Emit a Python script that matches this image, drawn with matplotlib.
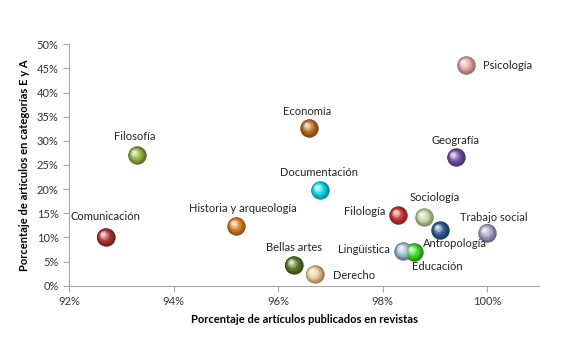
import numpy as np
import matplotlib
matplotlib.use("Agg")
import matplotlib.pyplot as plt
from matplotlib import colors as mcolors
from matplotlib.transforms import offset_copy

plt.rcParams['font.family'] = ['Lato', 'DejaVu Sans']

# data (percentages)
areas = ["Comunicación", "Filosofía", "Historia y arqueología", "Economía",
         "Documentación", "Bellas artes", "Derecho", "Psicología", "Geografía",
         "Sociología", "Filología", "Antropología", "Trabajo social",
         "Lingüística", "Educación"]
pct_revistas = [92.7, 93.3, 95.2, 96.6, 96.8, 96.3, 96.7, 99.6, 99.4,
                98.8, 98.3, 99.1, 100.0, 98.4, 98.6]
pct_EA = [10.1, 27.0, 12.4, 32.7, 19.8, 4.3, 2.4, 45.7, 26.6,
          14.2, 14.6, 11.5, 11.0, 7.2, 7.0]
colores = ["#b03a3a", "#8fb23e", "#d9822b", "#c0701f", "#12dce8", "#5f7a2c",
           "#f2cc95", "#e6a8a8", "#7452a6", "#c6d6a6", "#c73434", "#2f5e96",
           "#aaa3cc", "#a6bcdc", "#3fd82a"]
# label offsets in pixels and alignment
lab_dx = [0, -2, 7, -2, -1, 0, 18, 17, 0, 10, -13, 15, 7, -14, 23]
lab_dy = [20, 19, 17, 16, 18, 17, -1, 0, 17, 20, 4, -13, 15, 1, -15]
lab_ha = ["center", "center", "center", "center", "center", "center", "left",
          "left", "center", "center", "right", "center", "center", "right", "center"]

fig = plt.figure(figsize=(5.64, 3.54), dpi=100)
ax = fig.add_axes([0.1223, 0.193, 0.834, 0.682])


def esfera(ax, x, y, color, s=175, n=14):
    base = np.array(mcolors.to_rgb(color))
    dark = base * 0.6
    light = base + (1 - base) * 0.75
    r = np.sqrt(s) / 2  # radius in points
    for i in range(n):
        t = i / (n - 1)
        if t < 0.5:
            c = dark + (base - dark) * (t / 0.5)
        else:
            c = base + (light - base) * ((t - 0.5) / 0.5)
        d = 1 - 0.8 * t
        off = r * 0.32 * t
        tr = offset_copy(ax.transData, fig=ax.figure, x=-off, y=off, units='points')
        ax.scatter([x], [y], s=s * d ** 2, color=np.clip(c, 0, 1),
                   transform=tr, zorder=3 + i * 0.01, linewidths=0)


for i, nombre in enumerate(areas):
    esfera(ax, pct_revistas[i], pct_EA[i], colores[i])
    ax.annotate(nombre, (pct_revistas[i], pct_EA[i]),
                xytext=(lab_dx[i], lab_dy[i]), textcoords='offset pixels',
                ha=lab_ha[i], va='center', fontsize=8, color='#222222', zorder=5)

ax.set_xlim(92, 101)
ax.set_ylim(0, 50)
ax.set_xticks([92, 94, 96, 98, 100])
ax.set_xticklabels(["92%", "94%", "96%", "98%", "100%"])
ax.set_yticks(range(0, 51, 5))
ax.set_yticklabels([f"{v}%" for v in range(0, 51, 5)])
for sp in ["top", "right"]:
    ax.spines[sp].set_visible(False)
for sp in ["left", "bottom"]:
    ax.spines[sp].set_color("#a6a6a6")
ax.tick_params(colors="#a6a6a6", labelcolor="#333333", labelsize=8, length=4)
ax.set_xlabel("Porcentaje de artículos publicados en revistas",
              fontsize=8, fontweight='bold', labelpad=5)
ax.set_ylabel("Porcentaje de artículos en categorías E y A",
              fontsize=8, fontweight='bold', labelpad=5)

fig.savefig("out.png", dpi=100)
